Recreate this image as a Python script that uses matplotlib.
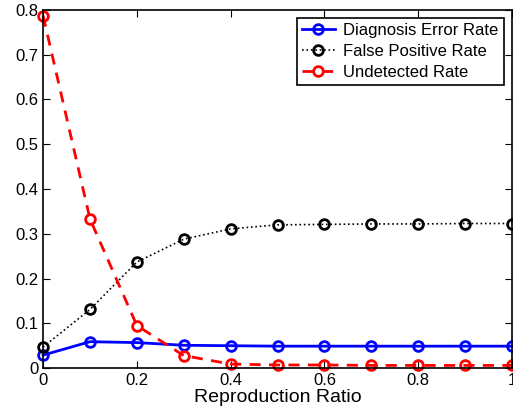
import numpy as np
import matplotlib
matplotlib.use('Agg')
from matplotlib import pyplot as plt

plt.rcParams['font.family'] = ['Liberation Sans', 'DejaVu Sans']

ratio = [0.0, 0.1, 0.2, 0.3, 0.4, 0.5, 0.6, 0.7, 0.8, 0.9, 1.0]
diag_err = [0.029, 0.059, 0.057, 0.051, 0.050, 0.049, 0.049, 0.049, 0.049, 0.049, 0.049]
false_pos = [0.047, 0.131, 0.237, 0.288, 0.311, 0.320, 0.321, 0.322, 0.322, 0.323, 0.323]
undetected = [0.787, 0.333, 0.095, 0.028, 0.009, 0.007, 0.007, 0.006, 0.006, 0.006, 0.006]

fig = plt.figure(figsize=(5.13, 4.15), dpi=100)
ax = fig.add_axes([0.084, 0.113, 0.914, 0.863])

mk = dict(marker='o', markersize=7, markerfacecolor='none', markeredgewidth=2, clip_on=False)
ax.plot(ratio, diag_err, '-', color='#0000ff', lw=2, label='Diagnosis Error Rate', **mk)
ax.plot(ratio, false_pos, ':', color='black', lw=1.2, label='False Positive Rate', **mk)
ax.plot(ratio, undetected, '--', color='#ff0000', lw=2, dashes=(4, 3), label='Undetected Rate', **mk)

ax.set_xlim(0, 1)
ax.set_ylim(0, 0.8)
ax.set_xticks(np.arange(0, 1.01, 0.2))
ax.set_xticklabels(['0', '0.2', '0.4', '0.6', '0.8', '1'])
ax.set_yticks(np.arange(0, 0.81, 0.1))
ax.set_yticklabels(['0', '0.1', '0.2', '0.3', '0.4', '0.5', '0.6', '0.7', '0.8'])
ax.tick_params(direction='in', top=True, right=True, labelsize=12, length=5, width=0.8)
for s in ax.spines.values():
    s.set_linewidth(1.2)
ax.set_xlabel('Reproduction Ratio', fontsize=14, labelpad=1)

leg = ax.legend(loc='upper right', fontsize=12, fancybox=False, framealpha=1,
                edgecolor='black', borderpad=0.3, labelspacing=0.35, handlelength=2.0,
                handletextpad=0.5, borderaxespad=0.5)
leg.get_frame().set_linewidth(1.2)

plt.savefig('out.png', dpi=100)
